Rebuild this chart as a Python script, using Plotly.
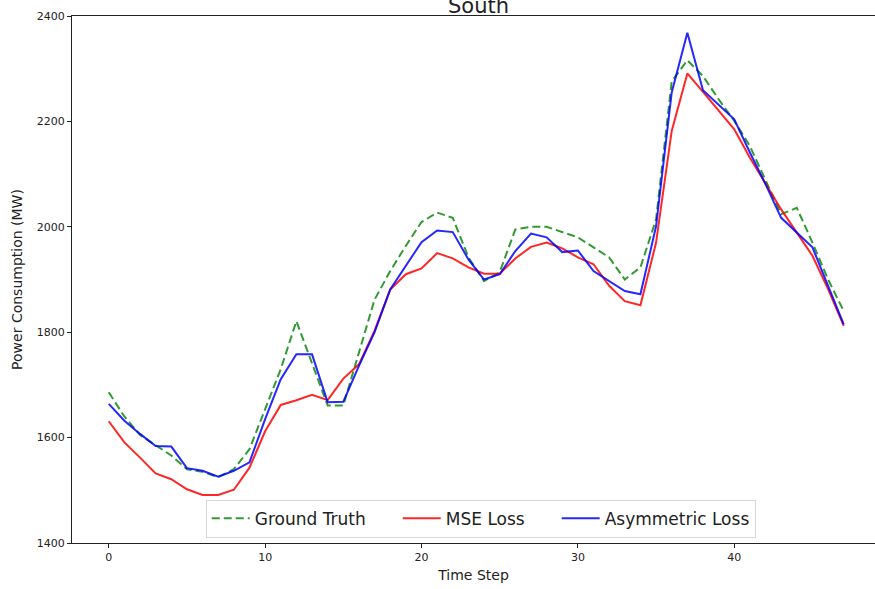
import plotly.graph_objects as go

# Half-hourly power consumption, South region (MW)
time_step = list(range(48))

ground_truth = [1686, 1640, 1605, 1585, 1566, 1540, 1535, 1525, 1540, 1578,
                1654, 1730, 1821, 1741, 1661, 1661, 1760, 1862, 1916, 1964,
                2009, 2027, 2017, 1942, 1897, 1914, 1995, 2000, 2000, 1990,
                1980, 1961, 1942, 1900, 1923, 2014, 2276, 2316, 2286, 2242,
                2201, 2153, 2090, 2024, 2036, 1970, 1900, 1840]

mse_loss = [1631, 1591, 1562, 1532, 1521, 1502, 1491, 1491, 1501, 1543,
            1612, 1662, 1671, 1681, 1671, 1712, 1739, 1803, 1881, 1910,
            1921, 1950, 1940, 1923, 1911, 1911, 1940, 1962, 1970, 1959,
            1942, 1929, 1888, 1859, 1851, 1970, 2182, 2291, 2256, 2220,
            2185, 2131, 2081, 2033, 1989, 1945, 1882, 1812]

asym_loss = [1664, 1632, 1607, 1584, 1583, 1542, 1537, 1526, 1537, 1553,
             1635, 1711, 1758, 1758, 1667, 1668, 1736, 1800, 1881, 1926,
             1971, 1993, 1990, 1938, 1900, 1910, 1954, 1987, 1980, 1952,
             1955, 1916, 1897, 1878, 1872, 2001, 2255, 2368, 2259, 2232,
             2204, 2141, 2081, 2017, 1989, 1961, 1888, 1815]

series_names = ["Ground Truth", "MSE Loss", "Asymmetric Loss"]

y_ticks = [1400, 1600, 1800, 2000, 2200, 2400]
x_ticks = [0, 10, 20, 30, 40]

FONT = "DejaVu Sans"
PAD = "\u00a0" * 5  # extra room between legend entries

fig = go.Figure()
fig.add_trace(go.Scatter(
    x=time_step, y=ground_truth, mode="lines", name=series_names[0] + PAD,
    line=dict(color="rgba(0,128,0,0.8)", width=2, dash="8px,4px"),
))
fig.add_trace(go.Scatter(
    x=time_step, y=mse_loss, mode="lines", name=series_names[1] + PAD,
    line=dict(color="rgba(255,0,0,0.85)", width=2),
))
fig.add_trace(go.Scatter(
    x=time_step, y=asym_loss, mode="lines", name=series_names[2],
    line=dict(color="rgba(0,0,255,0.85)", width=2),
))

fig.update_layout(
    width=875, height=589,
    margin=dict(l=72, r=0, t=16, b=46),
    paper_bgcolor="white", plot_bgcolor="white",
    font=dict(family=FONT, color="#222", size=11),
    showlegend=True,
    legend=dict(
        orientation="h", x=0.509, xanchor="center", y=0.01, yanchor="bottom",
        font=dict(size=17, family=FONT, color="#222"),
        bgcolor="rgba(255,255,255,0.85)", bordercolor="#d6d6d6", borderwidth=1,
        itemwidth=38, tracegroupgap=0,
    ),
    annotations=[dict(
        text="South", x=0.5057, xref="paper", y=1, yref="paper",
        yanchor="bottom", yshift=-4, showarrow=False,
        font=dict(size=21, family=FONT, color="#222"),
    )],
)

fig.update_xaxes(
    range=[-2.35, 49.0], tickvals=x_ticks, ticks="outside", ticklen=4,
    tickcolor="#222", showline=True, linecolor="#222", linewidth=1,
    mirror=True, showgrid=False, zeroline=False,
    title=dict(text="Time Step", font=dict(size=14, family=FONT), standoff=6),
)
fig.update_yaxes(
    range=[1400, 2400], tickvals=y_ticks, ticks="outside", ticklen=4,
    tickcolor="#222", showline=True, linecolor="#222", linewidth=1,
    showgrid=False, zeroline=False,
    title=dict(text="Power Consumption (MW)", font=dict(size=14, family=FONT), standoff=10),
)

fig.write_html("out.html")
